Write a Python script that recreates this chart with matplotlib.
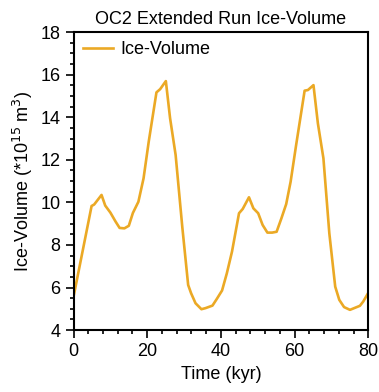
import matplotlib
matplotlib.use("Agg")
import matplotlib.pyplot as plt
from matplotlib.ticker import MultipleLocator

plt.rcParams['font.family'] = ['Liberation Sans', 'DejaVu Sans']

# time (kyr) and ice volume (*10^15 m^3)
time_kyr = [0.1, 4.9, 5.6, 7.6, 8.6, 10.0, 11.4, 12.5, 13.8, 15.0, 16.1, 17.6,
            19.0, 20.4, 22.5, 23.5, 25.05, 26.2, 27.7, 29.5, 31.1, 31.9, 33.1,
            34.7, 35.8, 37.7, 38.9, 40.3, 41.6, 43.0, 44.9, 45.9, 47.6, 48.8,
            50.1, 51.3, 52.6, 53.9, 55.1, 56.4, 57.7, 58.9, 60.4, 62.7, 63.6,
            65.1, 66.3, 67.8, 69.4, 71.0, 72.1, 73.4, 75.0, 77.7, 78.6, 79.9]
ice_volume = [5.65, 9.83, 9.9, 10.35, 9.85, 9.52, 9.1, 8.8, 8.78, 8.9, 9.5, 10.03,
              11.13, 12.85, 15.17, 15.32, 15.7, 13.95, 12.23, 8.86, 6.12, 5.73, 5.26,
              4.98, 5.03, 5.15, 5.47, 5.86, 6.67, 7.69, 9.49, 9.69, 10.24, 9.72,
              9.49, 8.94, 8.58, 8.58, 8.62, 9.25, 9.92, 10.97, 12.7, 15.25, 15.28,
              15.51, 13.71, 12.07, 8.55, 6.04, 5.42, 5.08, 4.95, 5.14, 5.34, 5.73]

fig = plt.figure(figsize=(3.79, 3.92), dpi=100)
ax = fig.add_axes([0.194, 0.158, 0.778, 0.76])

ax.plot(time_kyr, ice_volume, color='#EBA925', lw=1.9, label='Ice-Volume')

ax.set_xlim(0, 80)
ax.set_ylim(4, 18)
ax.xaxis.set_major_locator(MultipleLocator(20))
ax.xaxis.set_minor_locator(MultipleLocator(4))
ax.yaxis.set_major_locator(MultipleLocator(2))
ax.yaxis.set_minor_locator(MultipleLocator(0.5))
ax.tick_params(which='both', direction='out', top=False, right=False,
               width=1.2, labelsize=13)
ax.tick_params(which='major', length=6)
ax.tick_params(which='minor', length=3)
for s in ax.spines.values():
    s.set_linewidth(1.5)

ax.set_title('OC2 Extended Run Ice-Volume', fontsize=13, pad=6)
ax.set_xlabel('Time (kyr)', fontsize=13, labelpad=4)
ax.set_ylabel('Ice-Volume (*10$^{15}$ m$^3$)', fontsize=13, labelpad=4)
ax.legend(loc='upper left', frameon=False, fontsize=13, handlelength=1.7,
          handletextpad=0.4, borderaxespad=0.1)

fig.savefig('out.png', dpi=100)
